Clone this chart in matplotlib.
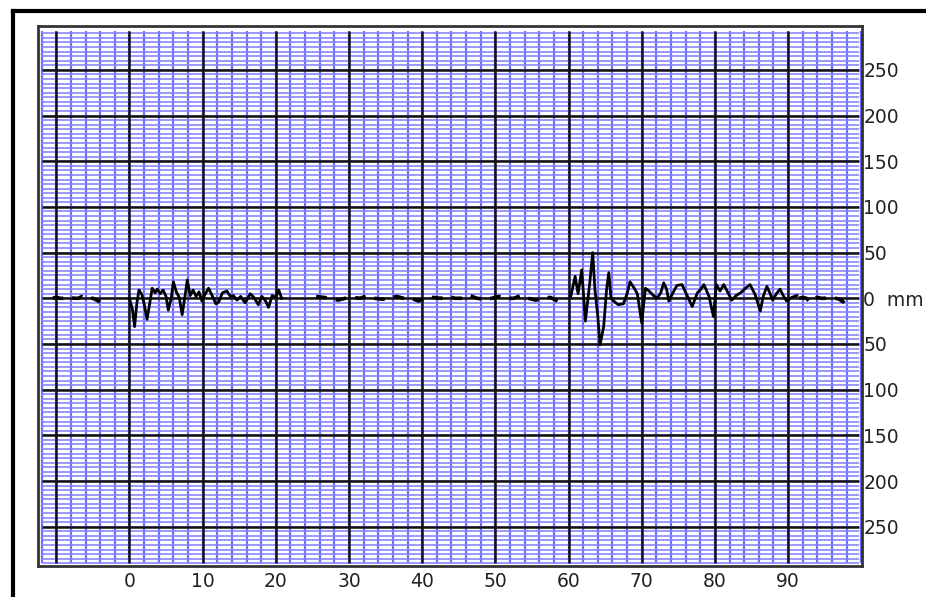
import numpy as np
import matplotlib
matplotlib.use('Agg')
import matplotlib.pyplot as plt
from matplotlib.lines import Line2D

plt.rcParams['font.family'] = ['DejaVu Sans']

# 数据：横轴刻度与右侧刻度
x_ticks = [0, 10, 20, 30, 40, 50, 60, 70, 80, 90]
x_tick_labels = ['0', '10', '20', '30', '40', '50', '60', '70', '80', '90']
y_ticks = [250, 200, 150, 100, 50, 0, -50, -100, -150, -200, -250]
y_tick_labels = ['250', '200', '150', '100', '50', '0  mm', '50', '100', '150', '200', '250']

# 第一段波形 (0 ~ 21)
burst1_x = [0.0, 0.4, 0.7, 1.0, 1.3, 1.7, 2.0, 2.4, 2.8, 3.1, 3.5, 3.8, 4.2, 4.6, 5.0,
            5.3, 5.7, 6.0, 6.4, 6.8, 7.2, 7.6, 7.9, 8.3, 8.7, 9.1, 9.5, 9.9, 10.3, 10.8,
            11.3, 11.8, 12.2, 12.7, 13.3, 13.8, 14.2, 14.7, 15.2, 15.8, 16.5, 17.0, 17.6,
            18.1, 18.6, 19.0, 19.5, 20.0, 20.4, 20.8]
burst1_y = [0, -12, -31, -6, 9, 4, -6, -23, -4, 11, 6, 10, 5, 9, 2,
            -13, 0, 18, 7, 1, -18, 3, 20, 3, 9, 2, 7, -3, 4, 11,
            3, -6, -4, 6, 8, 2, 3, -2, 2, -5, 5, 1, -7,
            2, -3, -10, 3, 1, 9, 0]

# 第二段波形 (60 ~ 91)
burst2_x = [60.3, 60.9, 61.3, 61.8, 62.3, 62.9, 63.3, 63.6, 64.0, 64.3, 64.8, 65.2, 65.5,
            65.8, 66.3, 66.8, 67.5, 68.0, 68.4, 68.9, 69.4, 70.0, 70.5, 71.0, 71.6, 72.1,
            72.6, 73.0, 73.4, 73.7, 74.2, 74.8, 75.5, 76.2, 76.9, 77.6, 78.1, 78.5, 79.2,
            79.8, 80.2, 80.7, 81.2, 81.8, 82.3, 82.9, 83.5, 84.2, 84.8, 85.5, 86.2, 86.6,
            87.1, 87.5, 87.9, 88.4, 88.9, 89.4, 89.8, 90.5, 91.2]
burst2_y = [2, 24, 5, 31, -25, 17, 50, 10, -20, -51, -31, 10, 28,
            0, -4, -7, -6, 5, 18, 12, 5, -27, 11, 8, 3, 0,
            6, 17, 10, -3, 5, 14, 15, 3, -9, 6, 10, 15, 2,
            -20, 15, 8, 15, 6, -2, 3, 6, 11, 15, 4, -14, 2,
            13, 6, -2, 5, 10, 2, -3, 1, 3]

# 平直段（虚线）
flat1_x = np.arange(-10.5, -3.9, 0.5)
flat1_y = [0, 1, 0, 0, 0, 1, 0, 0, 2, 0, 0, 0, -2, -4]
flat2_x = np.arange(25.5, 60.0, 1.0)
flat2_y = [2, 1, 0, -2, 0, 1, 0, 3, 0, -1, 0, 2, 0, 0, -3, 0, 1, 0, 2, 0,
           0, 3, 0, -1, 0, 2, 0, 0, 3, 0, -2, 0, 1, -3, 0]
flat3_x = np.arange(91.5, 98.1, 0.5)
flat3_y = [0, 1, 0, -4, 0, 1, 0, 0, 1, 0, 0, -1, -4, 0]

fig = plt.figure(figsize=(9.26, 5.97), dpi=100)
ax = fig.add_axes([38 / 926, 31 / 597, 824 / 926, 540 / 597])
ax.set_xlim(-12.5, 100.1)
ax.set_ylim(-293, 298)

# 网格：蓝色细线 + 黑色粗线
for xv in np.arange(-12, 101, 2):
    ax.vlines(xv, -290, 292, color='#6e6eff', lw=1.6, zorder=1)
for yv in np.arange(-290, 291, 5):
    ax.hlines(yv, -12, 99.7, color='#8686ff', lw=1.2, zorder=1)
for xv in range(-10, 91, 10):
    ax.vlines(xv, -290, 292, color='#111111', lw=1.8, zorder=2)
for yv in range(-250, 251, 50):
    ax.hlines(yv, -12, 99.7, color='#111111', lw=1.8, zorder=2)

# 波形
ax.plot(burst1_x, burst1_y, color='black', lw=2.0, zorder=3)
ax.plot(burst2_x, burst2_y, color='black', lw=2.0, zorder=3)
for fx, fy in [(flat1_x, flat1_y), (flat2_x, flat2_y), (flat3_x, flat3_y)]:
    ax.plot(fx, fy, color='black', lw=2.6, linestyle=(0, (3, 2.5)), zorder=3)

# 坐标轴
ax.set_xticks(x_ticks)
ax.set_xticklabels(x_tick_labels, fontsize=13.5, color='#222222')
ax.yaxis.tick_right()
ax.set_yticks(y_ticks)
ax.set_yticklabels(y_tick_labels, fontsize=13.5, color='#222222')
ax.tick_params(axis='both', length=0)
ax.tick_params(axis='x', pad=4)
ax.tick_params(axis='y', pad=1)
for sp in ax.spines.values():
    sp.set_color('#333333')
    sp.set_linewidth(2)

# 外框
fig.add_artist(Line2D([12.5 / 926, 12.5 / 926], [0, 1 - 11 / 597], transform=fig.transFigure,
                      color='black', lw=3))
fig.add_artist(Line2D([12.5 / 926, 1], [1 - 11 / 597, 1 - 11 / 597], transform=fig.transFigure,
                      color='black', lw=3))

fig.savefig('out.png', dpi=100)
plt.close(fig)
